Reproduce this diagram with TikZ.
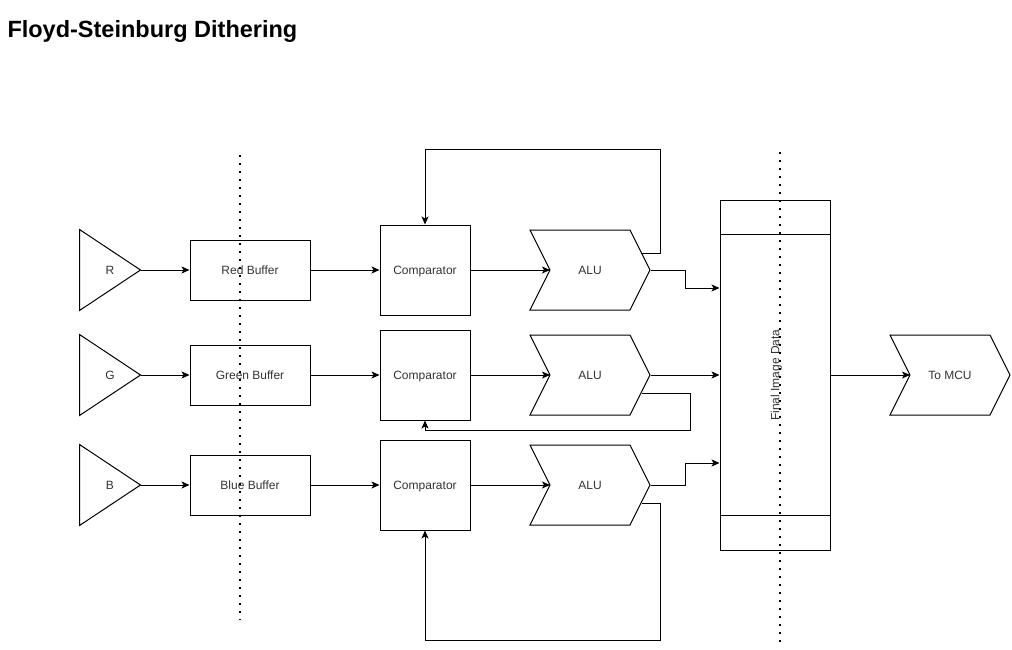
\documentclass[tikz,border=0pt]{standalone}
\usepackage{fontspec}
\setmainfont{Liberation Sans}
\usetikzlibrary{arrows.meta,shapes.symbols}

\tikzset{
  lbl/.style={font=\fontsize{12}{14}\selectfont, text=black!80, text height=8.6pt, text depth=0pt},
  buffer/.style={lbl, draw, minimum width=120pt, minimum height=60pt, inner sep=0pt},
  comparator/.style={lbl, draw, minimum width=90pt, minimum height=90pt, inner sep=0pt},
  source/.style={lbl, minimum width=60pt, minimum height=80pt, inner sep=0pt},
  stepbox/.style={lbl, draw, signal, signal from=west, signal to=east,
    signal pointer angle=126.87, minimum width=120pt, minimum height=80pt, inner sep=0pt},
  arr/.style={-{Stealth[length=8pt,width=7pt,inset=2pt]}},
  dotline/.style={line width=1.6pt, dash pattern=on 1.6pt off 6.4pt}
}

\begin{document}
\begin{tikzpicture}[x=1pt,y=-1pt,line width=1pt]
      \useasboundingbox (0,0) rectangle (1012,650);

      % Title
      \node[anchor=base west, inner sep=0pt, font=\fontsize{23.5}{28}\selectfont\bfseries] (title) at (7,38) {Floyd-Steinburg Dithering};

      % Colour inputs
      \node[source] (R) at (110,270) {R};
      \node[source] (G) at (110,375) {G};
      \node[source] (B) at (110,485) {B};
      \draw (R.north west) -- (R.east) -- (R.south west) -- cycle;
      \draw (G.north west) -- (G.east) -- (G.south west) -- cycle;
      \draw (B.north west) -- (B.east) -- (B.south west) -- cycle;

      % Buffers
      \node[buffer] (redBuf) at (250,270) {Red Buffer};
      \node[buffer] (greenBuf) at (250,375) {Green Buffer};
      \node[buffer] (blueBuf) at (250,485) {Blue Buffer};

      % Comparators
      \node[comparator] (compR) at (425,270) {Comparator};
      \node[comparator] (compG) at (425,375) {Comparator};
      \node[comparator] (compB) at (425,485) {Comparator};

      % ALUs
      \node[stepbox] (aluR) at (590,270) {ALU};
      \node[stepbox] (aluG) at (590,375) {ALU};
      \node[stepbox] (aluB) at (590,485) {ALU};

      % Final image data
      \node[draw, minimum width=110pt, minimum height=350pt, inner sep=0pt] (final) at (775,375) {};
      \draw ([yshift=-35pt]final.north west) -- ([yshift=-35pt]final.north east);
      \draw ([yshift=35pt]final.south west) -- ([yshift=35pt]final.south east);
      \node[lbl, rotate=90] (finalTxt) at (final.center) {Final Image Data};

      % Output
      \node[stepbox] (mcu) at (950,375) {To MCU};

      % Forward path
      \draw[arr] (R.east) -- (redBuf.west);
      \draw[arr] (G.east) -- (greenBuf.west);
      \draw[arr] (B.east) -- (blueBuf.west);
      \draw[arr] (redBuf.east) -- (compR.west);
      \draw[arr] (greenBuf.east) -- (compG.west);
      \draw[arr] (blueBuf.east) -- (compB.west);
      \draw[arr] (compR.east) -- ([xshift=-40pt]aluR.center);
      \draw[arr] (compG.east) -- ([xshift=-40pt]aluG.center);
      \draw[arr] (compB.east) -- ([xshift=-40pt]aluB.center);
      \draw[arr] (aluR.east) -| (685,288) -- ([yshift=87pt]final.west);
      \draw[arr] (aluG.east) -- (final.west);
      \draw[arr] (aluB.east) -| (685,463) -- ([yshift=-88pt]final.west);
      \draw[arr] (final.east) -- ([xshift=-40pt]mcu.center);

      % Feedback loops
      \draw[arr] ([shift={(-9,-17)}]aluR.east) -- (660,253) -- (660,150) -| (compR.north);
      \draw[arr] ([shift={(-9,18)}]aluG.east) -- (690,393) -- (690,430) -| (compG.south);
      \draw[arr] ([shift={(-9,18)}]aluB.east) -- (660,503) -- (660,640) -| (compB.south);

      % Dotted separators
      \draw[dotline] (240,155) -- (240,620);
      \draw[dotline] (780,152) -- (780,642);
\end{tikzpicture}
\end{document}
